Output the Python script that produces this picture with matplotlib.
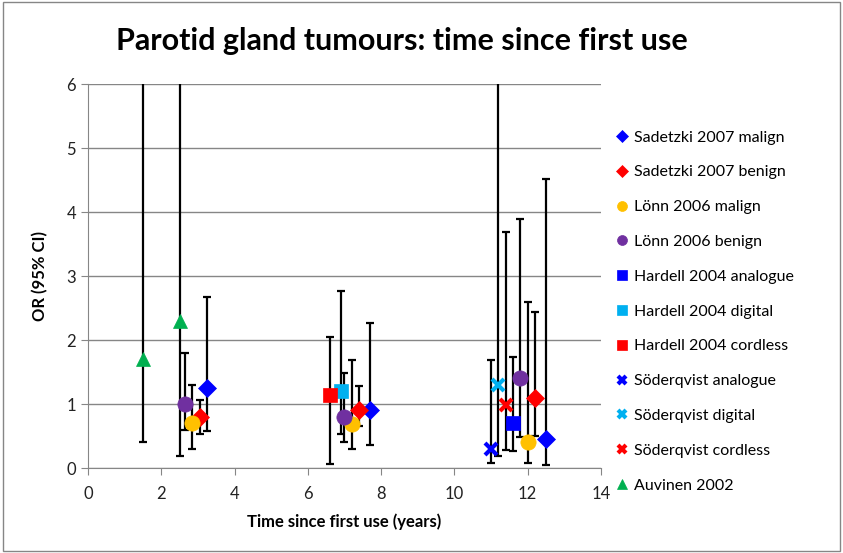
import numpy as np
import matplotlib
matplotlib.use("Agg")
import matplotlib.pyplot as plt
from matplotlib.patches import Rectangle

plt.rcParams['font.family'] = ['Lato', 'DejaVu Sans']

# series: name, colour, marker, and the points (x, OR, lower CI, upper CI)
names = ['Sadetzki 2007 malign', 'Sadetzki 2007 benign', 'Lönn 2006 malign', 'Lönn 2006 benign',
         'Hardell 2004 analogue', 'Hardell 2004 digital', 'Hardell 2004 cordless',
         'Söderqvist analogue', 'Söderqvist digital', 'Söderqvist cordless', 'Auvinen 2002']
colors = ['#0000FF', '#FF0000', '#FFC000', '#7030A0', '#0000FF', '#00B0F0', '#FF0000',
          '#0000FF', '#00B0F0', '#FF0000', '#00B050']
markers = ['D', 'D', 'o', 'o', 's', 's', 's', 'x', 'x', 'x', '^']

xs = [[3.25, 7.7, 12.5], [3.05, 7.4, 12.2], [2.85, 7.2, 12.0], [2.65, 7.0, 11.8],
      [11.6], [6.9], [6.6], [11.0], [11.2], [11.4], [1.5, 2.5]]
ors = [[1.25, 0.91, 0.46], [0.8, 0.91, 1.1], [0.7, 0.69, 0.4], [1.0, 0.79, 1.4],
       [0.71], [1.21], [1.14], [0.29], [1.29], [0.98], [1.7, 2.3]]
lower = [[0.58, 0.36, 0.05], [0.53, 0.65, 0.5], [0.3, 0.29, 0.08], [0.59, 0.4, 0.49],
         [0.27], [0.53], [0.06], [0.08], [0.19], [0.28], [0.4, 0.19]]
upper = [[2.67, 2.26, 4.51], [1.07, 1.28, 2.43], [1.29, 1.69, 2.59], [1.8, 1.49, 3.89],
         [1.73], [2.77], [2.04], [1.69], [8.0], [3.69], [8.0, 8.0]]

sizes = {'D': 9, 'o': 11, 's': 10, 'x': 9, '^': 10}

fig = plt.figure(figsize=(8.43, 5.53), dpi=100)
ax = fig.add_axes([0.1044, 0.1537, 0.6085, 0.6944])

for i in range(len(names)):
    x = np.array(xs[i])
    y = np.array(ors[i])
    err = [y - np.array(lower[i]), np.array(upper[i]) - y]
    ax.errorbar(x, y, yerr=err, fmt='none', ecolor='black', elinewidth=1.6,
                capsize=3.2, capthick=1.6, zorder=2)

for i in range(len(names)):
    m = markers[i]
    ax.plot(xs[i], ors[i], linestyle='none', marker=m, color=colors[i],
            markersize=sizes[m], markeredgewidth=3 if m == 'x' else 0.5,
            label=names[i], zorder=3)

ax.set_xlim(0, 14)
ax.set_ylim(0, 6)
ax.set_xticks(range(0, 15, 2))
ax.set_yticks(range(0, 7))
ax.grid(axis='y', color='#868686', linewidth=1)
ax.set_axisbelow(True)
for s in ['top', 'right']:
    ax.spines[s].set_visible(False)
for s in ['left', 'bottom']:
    ax.spines[s].set_color('#868686')
ax.tick_params(axis='both', colors='#868686', labelcolor='#222222', labelsize=12,
               length=5, direction='out')
ax.tick_params(axis='x', pad=8)

ax.set_xlabel('Time since first use (years)', fontsize=12, fontweight='bold', labelpad=8)
ax.set_ylabel('OR (95% CI)', fontsize=12, fontweight='bold', labelpad=13)
fig.text(0.477, 0.925, 'Parotid gland tumours: time since first use', fontsize=22,
         fontweight='bold', ha='center', va='center')

leg = ax.legend(loc='upper left', bbox_to_anchor=(0.712, 0.79), bbox_transform=fig.transFigure,
                frameon=False, fontsize=11.5, labelspacing=1.29, handlelength=0.9,
                handletextpad=0.3, markerscale=0.65)

fig.patches.append(Rectangle((0.003, 0.004), 0.994, 0.992, transform=fig.transFigure,
                             fill=False, edgecolor='#868686', linewidth=1))

fig.savefig('out.png', dpi=100)
